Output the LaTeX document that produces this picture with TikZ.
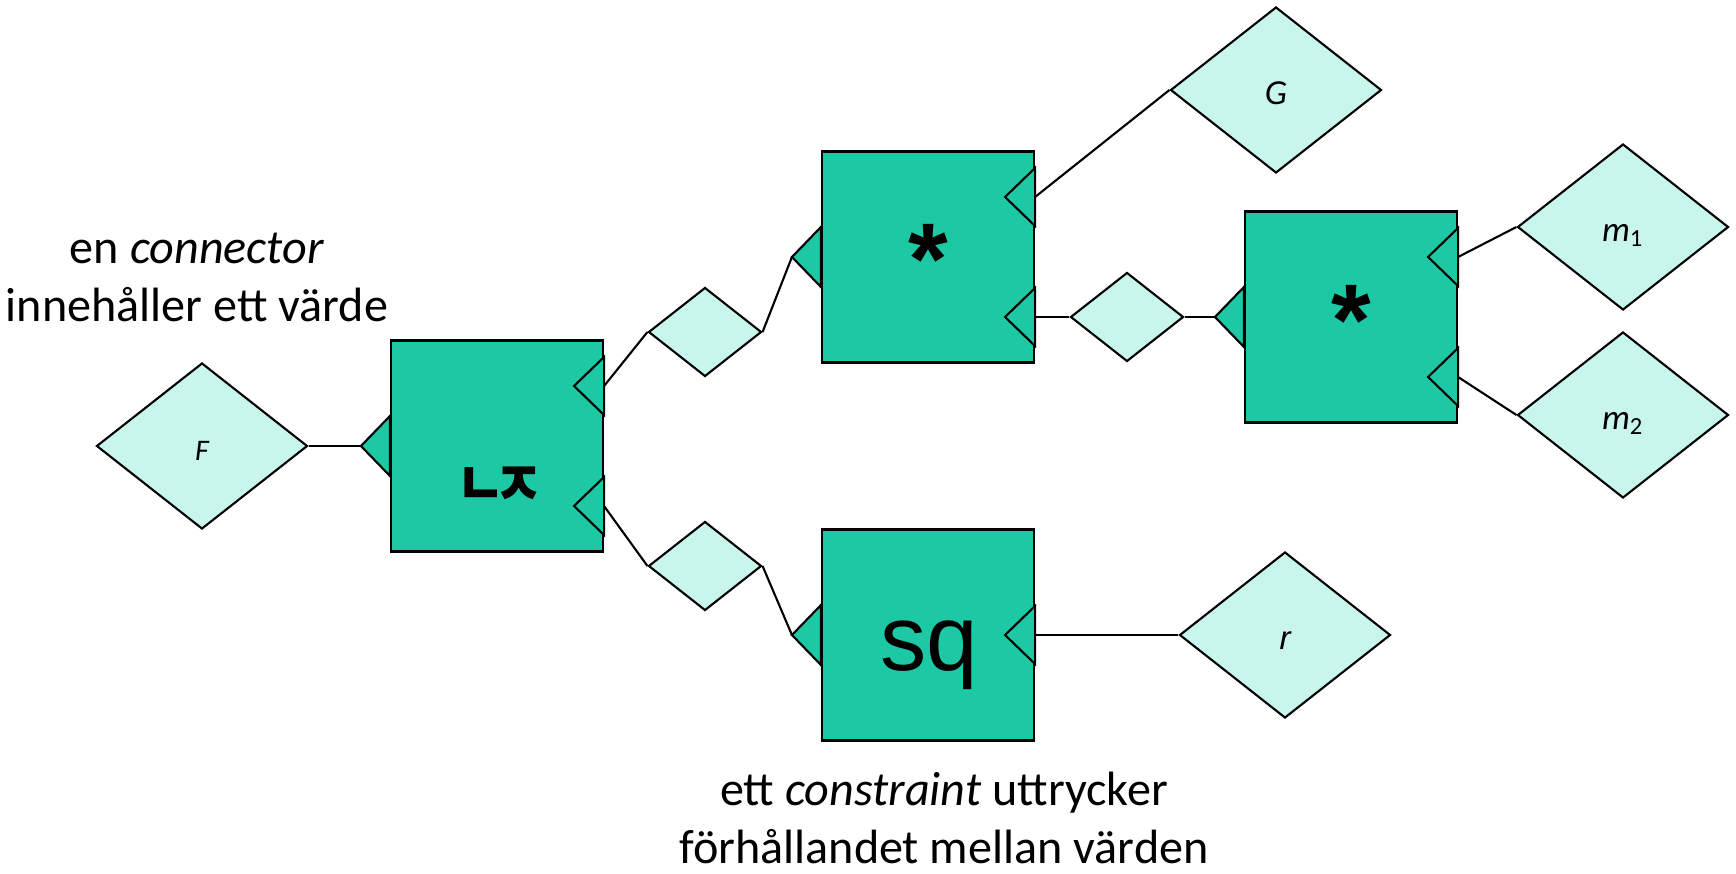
\documentclass[tikz,border=0pt]{standalone}
\usepackage{fontspec}
\setmainfont{Carlito}
\newfontfamily\arialfont{Liberation Sans}
\newfontfamily\krfont{Noto Sans CJK KR}
\usepackage{xcolor}
\usepackage{graphicx}
\usetikzlibrary{calc,shapes.geometric}
\definecolor{boxfill}{RGB}{29,200,165}
\definecolor{cellfill}{RGB}{200,245,236}

\begin{document}
\begin{tikzpicture}[
  x=0.1mm, y=-0.1mm,
  line width=0.6pt,
  box/.style={draw, fill=boxfill, minimum width=21.2mm, minimum height=21.1mm, inner sep=0pt},
  cell/.style={draw, diamond, fill=cellfill, minimum width=21.1mm, minimum height=16.6mm,
    inner sep=0pt, text height=0.8em, text depth=0pt, font=\fontsize{10}{12}\selectfont\itshape},
  wire/.style={draw, diamond, fill=cellfill, minimum width=11.3mm, minimum height=8.9mm, inner sep=0pt},
  port/.style={draw, fill=boxfill, line join=miter},
  op/.style={inner sep=0pt, font=\arialfont\bfseries\fontsize{29}{33}\selectfont},
  note/.style={align=center, inner sep=0pt, font=\fontsize{13.7}{16.5}\selectfont}
]
\useasboundingbox (0,0) rectangle (1736,874);

% connectors (values)
\node[cell, font=\fontsize{8.5}{10}\selectfont\itshape] (F) at (202,446) {F};
\node[cell] (G) at (1276,90) {G};
\node[cell] (m1) at (1623,227) {m\textsubscript{\upshape 1}};
\node[cell] (m2) at (1623,415) {m\textsubscript{\upshape 2}};
\node[cell, font=\arialfont\itshape\fontsize{9.4}{11}\selectfont] (r) at (1285,635) {r};
\node[wire] (d1) at (705,332) {};
\node[wire] (d2) at (705,566) {};
\node[wire] (d3) at (1127,317) {};

% constraints
\node[box] (lx) at (497,446) {};
\node[box] (mula) at (928,257) {};
\node[box] (mulb) at (1351,317) {};
\node[box] (sq) at (928,635) {};

\node[inner sep=0pt, anchor=north, font=\krfont\bfseries\fontsize{17.3}{20}\selectfont] (lx-lbl)
  at (500,466) {\scalebox{0.88}[1]{ㄴ\kern-0.22emㅈ}};
\node[op, anchor=north] (mula-lbl) at (928,223) {*};
\node[op, anchor=north] (mulb-lbl) at (1351,284) {*};
\node[inner sep=0pt, anchor=base, font=\arialfont\fontsize{26.3}{30}\selectfont] (sq-lbl) at (929,670) {sq};

% ports
\foreach \b in {lx, mula, mulb, sq}
  \draw[port] ([xshift=-2.9mm]\b.west) coordinate (\b-in) -- ++(29,-30) -- ++(0,60) -- cycle;
\foreach \b/\n/\dy in {lx/1/-60, lx/2/60, mula/1/-60, mula/2/60, mulb/1/-60, mulb/2/60, sq/1/0} {
  \coordinate (\b-o\n) at ($(\b.east)+(0,\dy)$);
  \draw[port] ($(\b-o\n)+(0,-29)$) -- ++(-30,29) -- ++(30,29) -- cycle;
}

% wires
\draw (F) -- (lx-in);
\draw (lx-o1) -- (d1.west);
\draw (d1.east) -- (mula-in);
\draw (lx-o2) -- (d2.west);
\draw (d2.east) -- (sq-in);
\draw (mula-o1) -- (G.west);
\draw (mula-o2) -- (d3.west);
\draw (d3.east) -- (mulb-in);
\draw (mulb-o1) -- (m1.west);
\draw (mulb-o2) -- (m2.west);
\draw (sq-o1) -- (r.west);

% notes
\node[note, anchor=south] (cellnote) at (197,323) {en \textit{connector}\\innehåller ett värde};
\node[note, anchor=south] (boxnote) at (944,865) {ett \textit{constraint} uttrycker\\förhållandet mellan värden};
\end{tikzpicture}
\end{document}
